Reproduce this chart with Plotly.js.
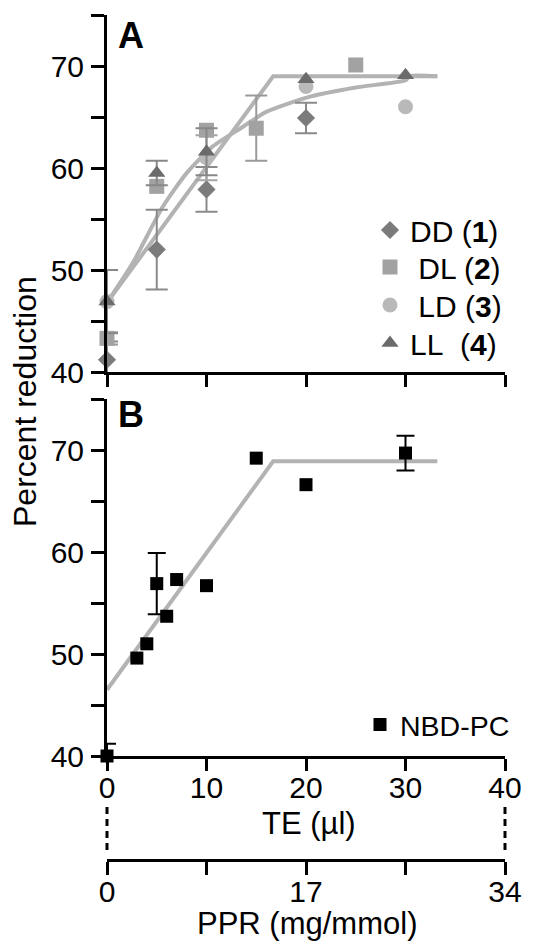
<!DOCTYPE html>
<html>
<head>
<meta charset="utf-8">
<script src="https://cdn.plot.ly/plotly-3.0.1.min.js"></script>
<style>html,body{margin:0;padding:0;background:#fff;}#chart{width:537px;height:941px;}</style>
</head>
<body>
<div id="chart"></div>
<script>
// ---------- Panel A data (TE in µl vs percent reduction) ----------
const ddX = [0, 5, 10, 20];
const ddY = [41.2, 52.0, 57.9, 64.9];
const ddErr = [1.8, 3.9, 2.2, 1.5];

const dlX = [0, 5, 10, 15, 25];
const dlY = [43.3, 58.2, 63.7, 63.9, 70.1];
const dlErr = [0.6, NaN, NaN, 3.2, NaN];

const ldX = [0, 10, 20, 30];
const ldY = [46.9, 61.0, 68.0, 66.0];
const ldErr = [NaN, 2.2, NaN, NaN];

const llX = [0, 5, 10, 20, 30];
const llY = [46.9, 59.5, 61.6, 68.7, 69.1];
const llErr = [3.1, 1.2, 2.3, NaN, NaN];

// fitted curves
const fitLinAX = [0, 16.7, 33.2];
const fitLinAY = [46.8, 69.0, 69.0];
const fitExpAX = [0, 2.6, 5.6, 8, 10.6, 13.6, 16, 20.4, 25, 30, 30.4, 33.2];
const fitExpAY = [46.8, 50.7, 56.2, 59.5, 62.1, 64.0, 65.5, 67.0, 67.9, 68.6, 69.0, 69.0];

// ---------- Panel B data (NBD-PC) ----------
const nbdX = [0, 3, 4, 5, 6, 7, 10, 15, 20, 30];
const nbdY = [40.0, 49.6, 51.0, 56.9, 53.7, 57.3, 56.7, 69.2, 66.6, 69.7];
const nbdErr = [1.2, NaN, NaN, 3.0, NaN, NaN, NaN, NaN, NaN, 1.7];
const fitBX = [0, 16.7, 33.2];
const fitBY = [46.5, 68.9, 68.9];

// ---------- axes ----------
const yTickVals = [40, 45, 50, 55, 60, 65, 70, 75];
const yTickText = ['40', '', '50', '', '60', '', '70', ''];
const teTickVals = [0, 10, 20, 30, 40];
const teTickText = ['0', '10', '20', '30', '40'];
const pprTickVals = [0, 8.5, 17, 25.5, 34];
const pprTickText = ['0', '', '17', '', '34'];

const FONT = 'Liberation Sans, Arial, Helvetica, sans-serif';
const curveColor = '#b3b3b3';

// pixel helpers for layout placement (page is 537x941, plot area 107..505 x 15..881)
const L = 107, R = 32, T = 15, B = 60, W = 537, H = 941;
const PW = W - L - R, PH = H - T - B;
const px = v => (v - L) / PW;
const py = v => (H - B - v) / PH;

function errObj(arr, color, w) {
  return {type: 'data', array: arr, visible: true, color: color, thickness: 2, width: w};
}
function legendAt(lx, cy, fs) {
  return {x: px(lx), y: py(cy), xanchor: 'left', yanchor: 'middle', bgcolor: 'rgba(0,0,0,0)',
    font: {family: FONT, size: fs, color: '#000'}, itemsizing: 'trace'};
}

const traces = [
  // Panel A fits
  {x: fitLinAX, y: fitLinAY, xaxis: 'x', yaxis: 'y', mode: 'lines', line: {color: curveColor, width: 4}, showlegend: false, hoverinfo: 'skip'},
  {x: fitExpAX, y: fitExpAY, xaxis: 'x', yaxis: 'y', mode: 'lines', line: {color: curveColor, width: 4, shape: 'spline', smoothing: 0.6}, showlegend: false, hoverinfo: 'skip'},
  // Panel A data
  {x: ddX, y: ddY, xaxis: 'x', yaxis: 'y', mode: 'markers', name: 'DD (<b>1</b>)', legend: 'legend', cliponaxis: false,
   marker: {symbol: 'diamond', size: 14, color: '#7b7b7b'}, error_y: errObj(ddErr, '#8a8a8a', 11)},
  {x: dlX, y: dlY, xaxis: 'x', yaxis: 'y', mode: 'markers', name: '\u00a0DL (<b>2</b>)', legend: 'legend3', cliponaxis: false,
   marker: {symbol: 'square', size: 15, color: '#a2a2a2'}, error_y: errObj(dlErr, '#9a9a9a', 11)},
  {x: ldX, y: ldY, xaxis: 'x', yaxis: 'y', mode: 'markers', name: '\u00a0LD (<b>3</b>)', legend: 'legend4', cliponaxis: false,
   marker: {symbol: 'circle', size: 15, color: '#b9b9b9'}, error_y: errObj(ldErr, '#a5a5a5', 11)},
  {x: llX, y: llY, xaxis: 'x', yaxis: 'y', mode: 'markers', name: 'LL\u00a0\u00a0(<b>4</b>)', legend: 'legend5', cliponaxis: false,
   marker: {symbol: 'triangle-up', size: 15, color: '#6b6b6b'}, error_y: errObj(llErr, '#888888', 11)},
  // Panel B
  {x: fitBX, y: fitBY, xaxis: 'x2', yaxis: 'y2', mode: 'lines', line: {color: curveColor, width: 4}, showlegend: false, hoverinfo: 'skip'},
  {x: nbdX, y: nbdY, xaxis: 'x2', yaxis: 'y2', mode: 'markers', name: 'NBD-PC', legend: 'legend2', cliponaxis: false,
   marker: {symbol: 'square', size: 13, color: '#000000'}, error_y: errObj(nbdErr, '#000000', 9)},
  // invisible carrier for PPR axis
  {x: pprTickVals, y: pprTickVals.map(() => 50), xaxis: 'x3', yaxis: 'y2', mode: 'markers', marker: {opacity: 0}, showlegend: false, hoverinfo: 'skip'}
];

const yCommon = {
  range: [40, 75], tickvals: yTickVals, ticktext: yTickText, ticks: 'outside', ticklen: 13, tickwidth: 3,
  showline: true, linewidth: 3, linecolor: '#000', tickcolor: '#000', showgrid: false, zeroline: false,
  tickfont: {family: FONT, size: 30, color: '#000'}, ticklabelstandoff: 1
};
const xCommon = {
  range: [0, 40], tickvals: teTickVals, ticktext: teTickText, ticks: 'outside', ticklen: 12, tickwidth: 3,
  showline: true, linewidth: 3, linecolor: '#000', tickcolor: '#000', showgrid: false, zeroline: false,
  tickfont: {family: FONT, size: 30, color: '#000'}, domain: [0, 1], ticklabelstandoff: -9
};

const layout = {
  width: W, height: H,
  margin: {l: L, r: R, t: T, b: B},
  paper_bgcolor: '#fff', plot_bgcolor: 'rgba(0,0,0,0)',
  font: {family: FONT, color: '#000'},
  xaxis: Object.assign({}, xCommon, {anchor: 'y', showticklabels: false}),
  yaxis: Object.assign({}, yCommon, {domain: [py(372), py(15)], anchor: 'x'}),
  xaxis2: Object.assign({}, xCommon, {anchor: 'y2'}),
  yaxis2: Object.assign({}, yCommon, {domain: [py(756), py(399)], anchor: 'x2'}),
  xaxis3: Object.assign({}, xCommon, {range: [0, 34], tickvals: pprTickVals, ticktext: pprTickText,
    anchor: 'free', overlaying: 'x2', position: py(860), side: 'bottom', ticklen: 13}),
  legend: legendAt(370, 230, 30),
  legend3: legendAt(370, 267, 30),
  legend4: legendAt(370, 305, 30),
  legend5: legendAt(370, 343, 30),
  legend2: legendAt(360, 725, 28.5),
  annotations: [
    {text: '<b>A</b>', xref: 'paper', yref: 'paper', x: px(116), y: py(35), xanchor: 'left', yanchor: 'middle', showarrow: false,
     font: {family: FONT, size: 36, color: '#000'}},
    {text: '<b>B</b>', xref: 'paper', yref: 'paper', x: px(116), y: py(414), xanchor: 'left', yanchor: 'middle', showarrow: false,
     font: {family: FONT, size: 36, color: '#000'}},
    {text: 'Percent reduction', xref: 'paper', yref: 'paper', x: px(25), y: py(402), textangle: -90, xanchor: 'center', yanchor: 'middle',
     showarrow: false, font: {family: FONT, size: 32, color: '#000'}},
    {text: 'TE (\u00b5l)', xref: 'paper', yref: 'paper', x: px(309), y: py(823), xanchor: 'center', yanchor: 'middle',
     showarrow: false, font: {family: FONT, size: 31, color: '#000'}},
    {text: 'PPR (mg/mmol)', xref: 'paper', yref: 'paper', x: px(307), y: py(923), xanchor: 'center', yanchor: 'middle',
     showarrow: false, font: {family: FONT, size: 31, color: '#000'}}
  ],
  shapes: [0, 1].map(v => ({
    type: 'line', xref: 'paper', yref: 'paper', x0: v, x1: v, y0: py(807), y1: py(853),
    line: {color: '#000', width: 3, dash: '7px,5px'}
  }))
};

Plotly.newPlot('chart', traces, layout, {displayModeBar: false, staticPlot: true});
</script>
</body>
</html>
